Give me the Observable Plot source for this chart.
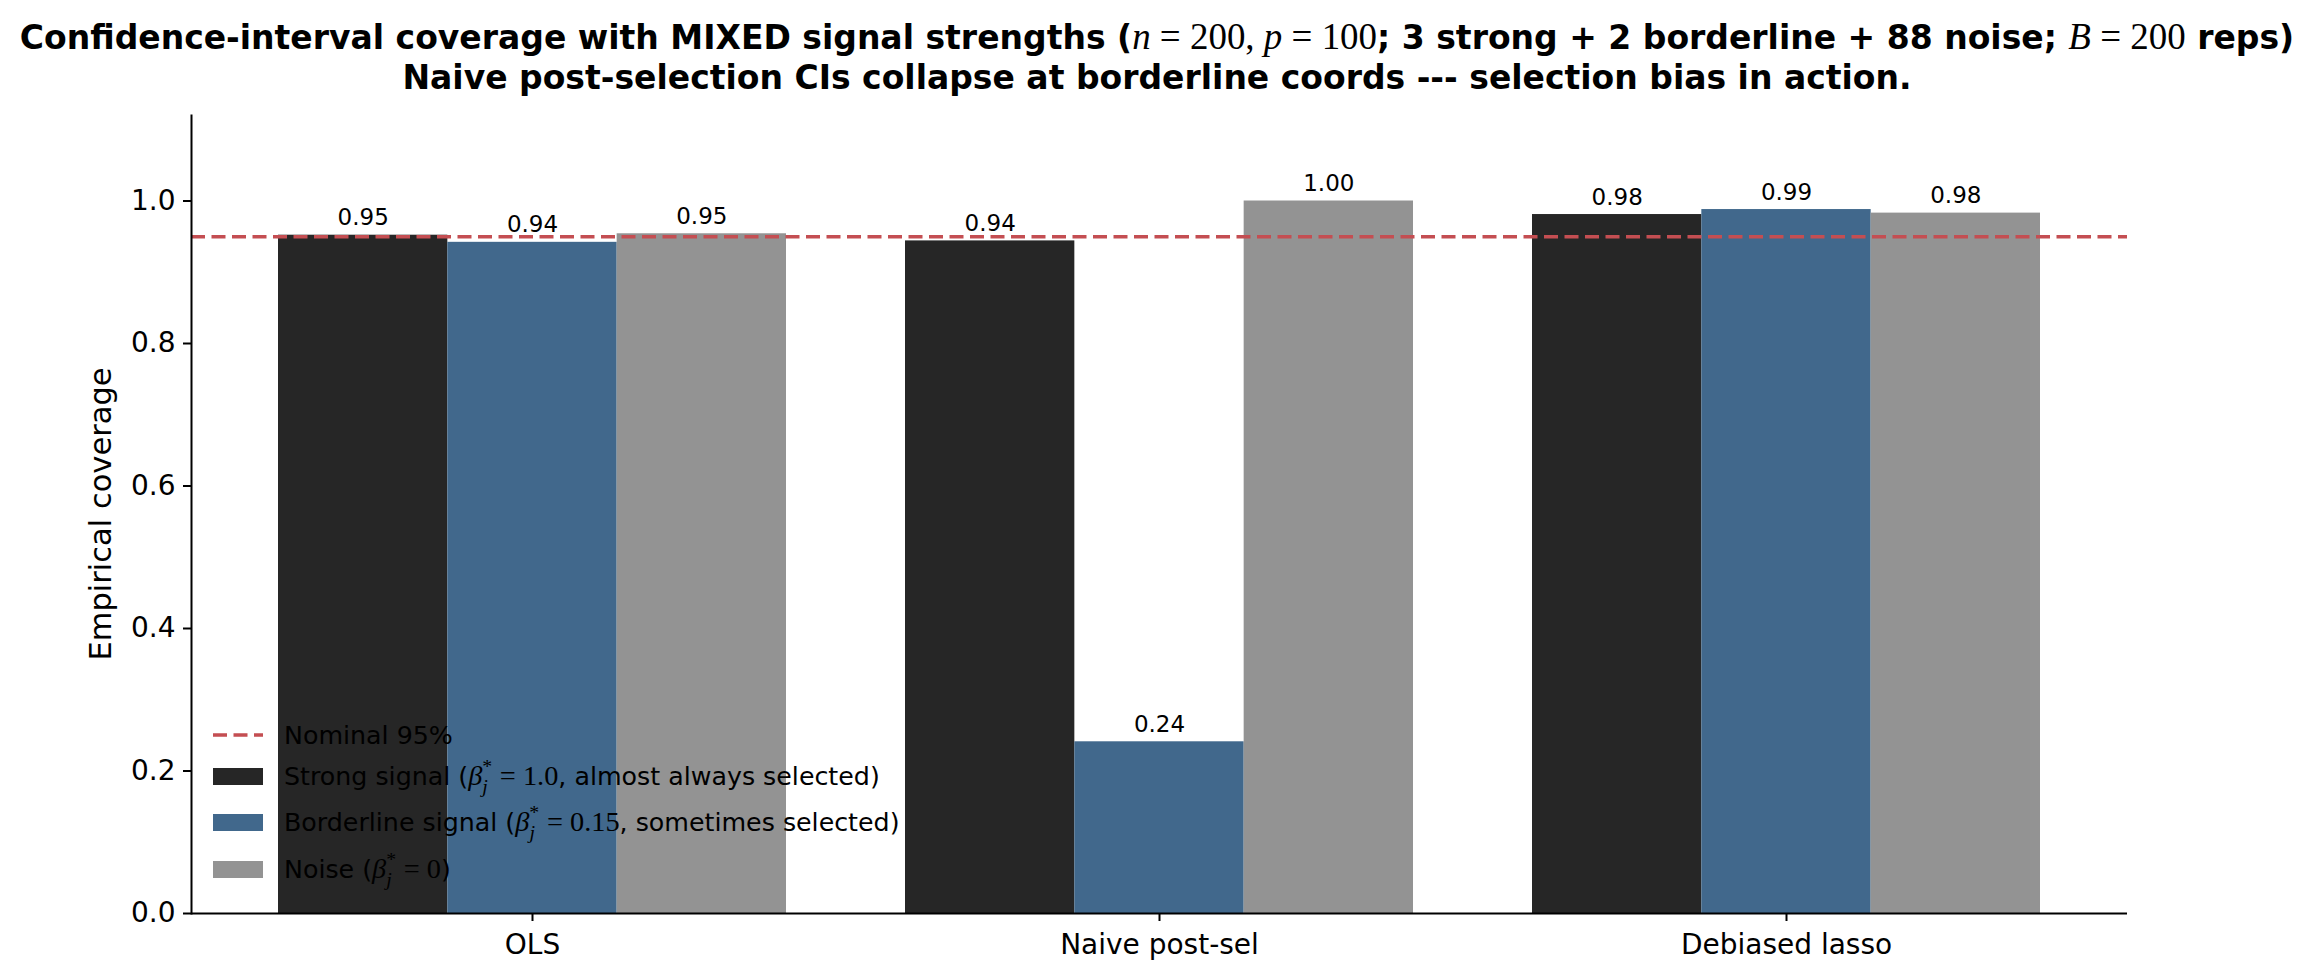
<!DOCTYPE html>
<html>
<head>
<meta charset="utf-8">
<script src="https://cdn.jsdelivr.net/npm/d3@7"></script>
<script src="https://cdn.jsdelivr.net/npm/@observablehq/plot@0.6"></script>
<style>
  body { margin: 0; background: #fff; font-family: "DejaVu Sans", sans-serif; }
  #fig { position: relative; width: 2314px; height: 978px; overflow: hidden; background: #fff; }
  #title { position: absolute; left: 0; top: 17px; width: 2314px; text-align: center;
           font-weight: bold; font-size: 33px; line-height: 40px; color: #000; white-space: nowrap; }
  #chart { position: absolute; left: 0; top: 105px; }
  #ylabel { position: absolute; left: 100px; top: 514px; transform: translate(-50%, -50%) rotate(-90deg);
            font-size: 30.5px; white-space: nowrap; color: #000; }
  .m { font-family: "Liberation Serif", "DejaVu Serif", serif; font-weight: normal; font-size: 1.12em; }
  .m i { font-style: italic; }
  .sup { font-size: 0.7em; position: relative; top: -0.6em; }
  .sub { font-size: 0.7em; position: relative; top: 0.4em; margin-left: -0.5em; margin-right: 0.25em; }
  .legrow { position: absolute; left: 213px; height: 30px; display: flex; align-items: center;
            font-size: 25.3px; color: #000; white-space: nowrap; }
  .handle { width: 50px; margin-right: 21px; display: flex; align-items: center; }
</style>
</head>
<body>
<div id="fig">
  <div id="title">
    <div>Confidence-interval coverage with MIXED signal strengths (<span class="m"><i>n</i> = 200, <i>p</i> = 100</span>; 3 strong + 2 borderline + 88 noise; <span class="m"><i>B</i> = 200</span> reps)</div>
    <div>Naive post-selection CIs collapse at borderline coords --- selection bias in action.</div>
  </div>
  <div id="chart"></div>
  <div id="ylabel">Empirical coverage</div>
  <div id="legend"></div>
</div>
<script>
// ---- data ----
const methods = ["OLS", "Naive post-sel", "Debiased lasso"];
const seriesNames = ["Strong", "Borderline", "Noise"];
const strongCoverage = [0.952, 0.944, 0.981];
const borderlineCoverage = [0.942, 0.241, 0.988];
const noiseCoverage = [0.954, 1.000, 0.983];
const nominalLevel = 0.95;
const yTicks = [0, 0.2, 0.4, 0.6, 0.8, 1.0];

// ---- build table ----
const seriesValues = [strongCoverage, borderlineCoverage, noiseCoverage];
const rows = [];
seriesNames.forEach((s, si) => methods.forEach((m, mi) => rows.push({method: m, series: s, value: seriesValues[si][mi]})));
const bySeries = s => rows.filter(d => d.series === s);

// ---- layout ----
const W = 2314, H = 873, mL = 191, mR = 187, mT = 10, mB = 65;
const padIn = 0.19, padOut = 0.1385;
const step = (W - mL - mR) / (methods.length - padIn + 2 * padOut);
const bw = step * (1 - padIn);
const third = bw / 3;
const palette = {Strong: "#262626", Borderline: "#41688c", Noise: "#939393"};
const fmt = d3.format(".2f");

const insets = {
  Strong: {insetLeft: 0, insetRight: 2 * third, dx: -third},
  Borderline: {insetLeft: third, insetRight: third, dx: 0},
  Noise: {insetLeft: 2 * third, insetRight: 0, dx: third}
};

const marks = [];
for (const s of seriesNames) {
  marks.push(Plot.barY(bySeries(s), {x: "method", y: "value", fill: palette[s],
    insetLeft: insets[s].insetLeft, insetRight: insets[s].insetRight}));
}
marks.push(Plot.ruleY([nominalLevel], {stroke: "#c44e52", strokeWidth: 3.5, strokeDasharray: "14,6.5"}));
for (const s of seriesNames) {
  marks.push(Plot.text(bySeries(s), {x: "method", y: "value", text: d => fmt(d.value),
    dx: insets[s].dx, dy: -10, lineAnchor: "bottom", fontSize: 23, fill: "#000"}));
}
marks.push(Plot.ruleY([0], {stroke: "#000", strokeWidth: 2}));
marks.push(Plot.frame({anchor: "left", stroke: "#000", strokeWidth: 2}));
marks.push(Plot.axisY({ticks: yTicks, tickFormat: d3.format(".1f"), tickSize: 8, tickPadding: 8, label: null, strokeWidth: 2}));
marks.push(Plot.axisX({tickSize: 8, tickPadding: 13, label: null, strokeWidth: 2}));

const chart = Plot.plot({
  width: W, height: H,
  marginLeft: mL, marginRight: mR, marginTop: mT, marginBottom: mB,
  style: {fontFamily: "DejaVu Sans, sans-serif", fontSize: "28px", color: "#000", background: "#fff"},
  x: {domain: methods, paddingInner: padIn, paddingOuter: padOut},
  y: {domain: [0, 1.12]},
  marks
});
document.getElementById("chart").appendChild(chart);

// ---- legend (HTML) ----
const beta = val => `<span class="m"><i>β</i><span class="sup">*</span><span class="sub"><i>j</i></span> = ${val}</span>`;
const legendItems = [
  {type: "line", color: "#c44e52", label: "Nominal 95%", y: 735},
  {type: "rect", color: palette.Strong, label: `Strong signal (${beta("1.0")}, almost always selected)`, y: 776},
  {type: "rect", color: palette.Borderline, label: `Borderline signal (${beta("0.15")}, sometimes selected)`, y: 822},
  {type: "rect", color: palette.Noise, label: `Noise (${beta("0")})`, y: 869}
];
const leg = document.getElementById("legend");
for (const it of legendItems) {
  const row = document.createElement("div");
  row.className = "legrow";
  row.style.top = (it.y - 15) + "px";
  const handle = it.type === "line"
    ? `<svg width="50" height="10"><line x1="0" x2="50" y1="5" y2="5" stroke="${it.color}" stroke-width="3.5" stroke-dasharray="14,6.5"/></svg>`
    : `<div style="width:50px;height:17px;background:${it.color}"></div>`;
  row.innerHTML = `<div class="handle">${handle}</div><div>${it.label}</div>`;
  leg.appendChild(row);
}
</script>
</body>
</html>
